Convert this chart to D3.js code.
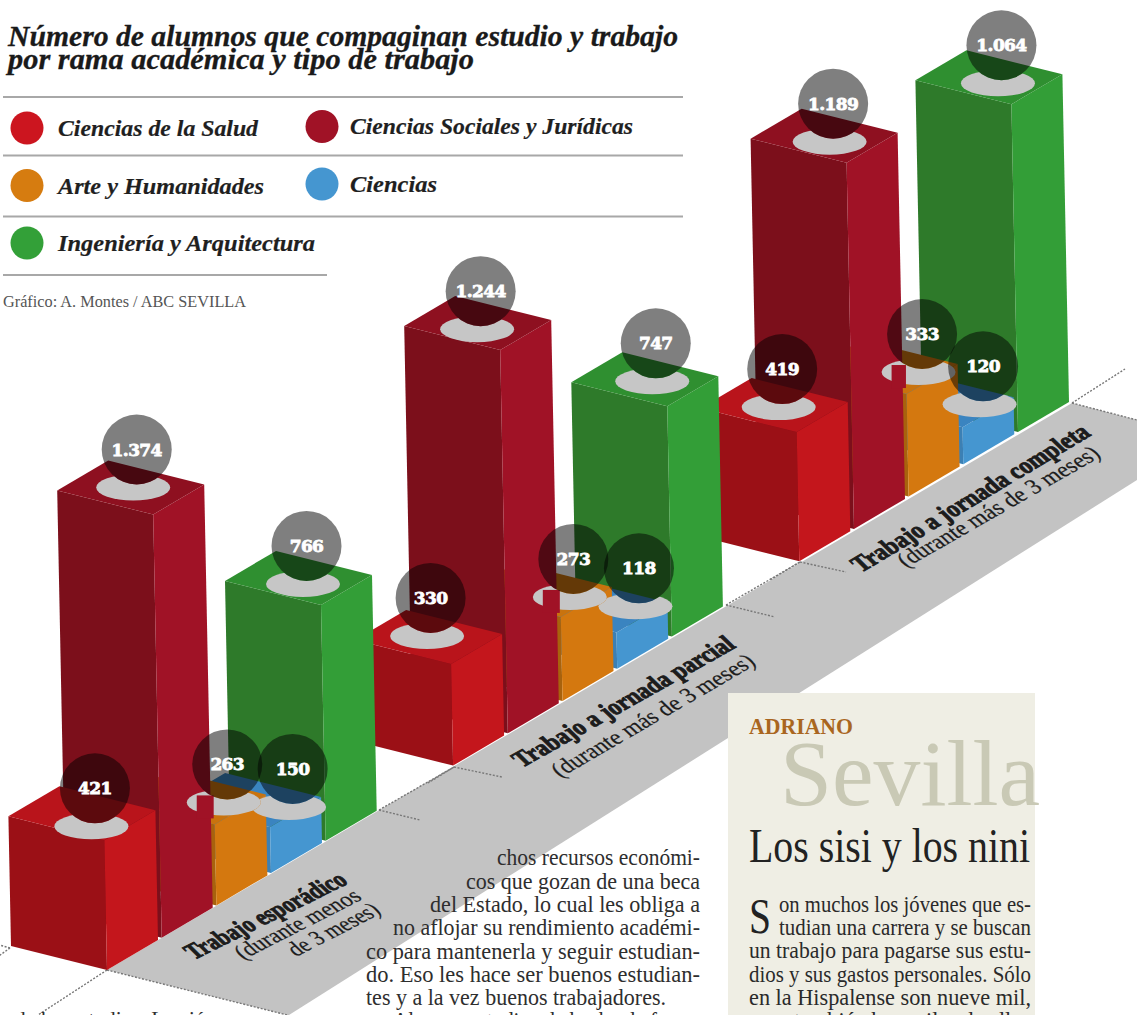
<!DOCTYPE html>
<html><head><meta charset="utf-8">
<script src="https://cdn.jsdelivr.net/npm/d3@7/dist/d3.min.js"></script>
<style>html,body{margin:0;padding:0;background:#fff;overflow:hidden}svg{display:block}</style>
</head><body><div id="c"></div>
<script>
// ---------- data ----------
const groups = ["Trabajo esporádico","Trabajo a jornada parcial","Trabajo a jornada completa"];
const branches = ["Ciencias de la Salud","Ciencias Sociales y Jurídicas","Arte y Humanidades","Ciencias","Ingeniería y Arquitectura"];
const saludValues = [421,330,419];
const socialesValues = [1374,1244,1189];
const arteValues = [263,273,333];
const cienciasValues = [150,118,120];
const ingenieriaValues = [766,747,1064];
const seriesValues = [saludValues,socialesValues,arteValues,cienciasValues,ingenieriaValues];

// ---------- styles / layout ----------
const faces = [
 {left:"#9b1016",right:"#c4161c",top:"#b9141b",key:"#cc151f"},
 {left:"#7c0f1b",right:"#a01226",top:"#8e1020",key:"#a01226"},
 {left:"#a8620d",right:"#d4780f",top:"#c9730e",key:"#d67c10"},
 {left:"#3c80b4",right:"#4596d0",top:"#3a84c0",key:"#4596d0"},
 {left:"#2e7a2a",right:"#339e37",top:"#2f8f30",key:"#33a038"}];
const W=1137,H=1015;
// offset of each disc from the front corner of its bar's top [group][branch]
const discDX=[[-13,-20,9,19,-18],[-24,-23,9,19,-15],[-18,-17,12,17,-13.5]];
const discDY=[[-14,-27,-22,-20,-21],[-28,-21,-20,-26,-25],[-25,-21,-22,-23,-21]];
const L={x:-96,y:-24},R={x:51,y:-30};
const groupGap=6.33;
const slotMax=2*groupGap+4;
const rowX=d3.scaleLinear().domain([0,slotMax]).range([107,1018]);
const rowY=d3.scaleLinear().domain([0,slotMax]).range([970,432]);
const heightScale=d3.scaleLinear().domain([0,1000]).range([0,308]);
const lean=-0.02;
const fmt=d3.formatLocale({decimal:",",thousands:".",grouping:[3],currency:["","€"]}).format(",");

const svg=d3.select("#c").append("svg").attr("width",W).attr("height",H).attr("viewBox",`0 0 ${W} ${H}`);
const defs=svg.append("defs");
const poly=pts=>"M"+pts.map(p=>p.x.toFixed(1)+","+p.y.toFixed(1)).join("L")+"Z";
const add=(a,b)=>({x:a.x+b.x,y:a.y+b.y});
const SERIF='"Liberation Serif","DejaVu Serif",serif';

// ---------- floor ----------
svg.append("path").attr("d",poly([{x:107,y:970},{x:1072,y:403},{x:1137,y:420},{x:1137,y:480},{x:289,y:1015},{x:287,y:1015}])).attr("fill","#c3c3c3");
const dashes=[[107,970,287,1015],[107,970,38,1015],[10,948,-4,944],[10,948,-4,958],[379,810,420,820],[454,767,502,777],[454,767,428,783],[379,810,454,767],[726,605,775,617],[800,562,846,572],[800,562,770,580],[726,605,800,562],[1072,403,1137,420],[1072,403,1125,369]];
svg.append("g").selectAll("line").data(dashes).join("line")
 .attr("x1",d=>d[0]).attr("y1",d=>d[1]).attr("x2",d=>d[2]).attr("y2",d=>d[3])
 .attr("stroke","#777").attr("stroke-width",1.4).attr("stroke-dasharray","2 1.6");

// ---------- bars ----------
const bars=[];
groups.forEach((g,gi)=>branches.forEach((b,bi)=>{
  const value=seriesValues[bi][gi],h=heightScale(value),slot=gi*groupGap+bi;
  const base={x:rowX(slot),y:rowY(slot)};
  const front={x:base.x+lean*h,y:base.y-h};
  const disc={x:front.x+discDX[gi][bi],y:front.y+discDY[gi][bi]};
  bars.push({gi,bi,value,h,base,front,disc,slot});
}));
const order=bars.slice().sort((a,b)=>b.slot-a.slot);
const barG=svg.append("g");
order.forEach(d=>{
  const c=faces[d.bi],g=barG.append("g");
  g.append("path").attr("d",poly([d.base,d.front,add(d.front,L),add(d.base,L)])).attr("fill",c.left);
  g.append("path").attr("d",poly([d.base,d.front,add(d.front,R),add(d.base,R)])).attr("fill",c.right);
  g.append("path").attr("d",poly([d.front,add(d.front,L),add(add(d.front,L),R),add(d.front,R)])).attr("fill",c.top);
});

// ---------- discs and balls ----------
const discRx=37,discRy=13,ballR=35,ballDX=3.5,ballDY=-38;
const discG=svg.append("g");
order.forEach((d,i)=>{
  const id="m"+i;
  const m=defs.append("mask").attr("id",id).attr("maskUnits","userSpaceOnUse").attr("x",0).attr("y",0).attr("width",W).attr("height",H);
  m.append("rect").attr("width",W).attr("height",H).attr("fill","#fff");
  m.append("circle").attr("cx",d.disc.x+ballDX).attr("cy",d.disc.y+ballDY).attr("r",ballR).attr("fill","#000");
  discG.append("ellipse").attr("cx",d.disc.x).attr("cy",d.disc.y).attr("rx",discRx).attr("ry",discRy).attr("fill","#c6c6c6").attr("mask",`url(#${id})`);
  if(d.bi===2){
    // the taller bar in front bites a notch out of the disc
    discG.append("rect").attr("x",d.disc.x-27).attr("y",d.disc.y-7).attr("width",rowX(d.slot-1)+R.x-(d.disc.x-27)+1).attr("height",discRy+10).attr("fill",faces[1].right);
  }
  if(d.bi===3){
    // sliver where this disc overlaps the orange one
    const prev=bars.find(b=>b.gi===d.gi&&b.bi===2);
    const cid="c"+i;
    defs.append("clipPath").attr("id",cid).append("ellipse").attr("cx",prev.disc.x).attr("cy",prev.disc.y).attr("rx",discRx).attr("ry",discRy);
    discG.append("ellipse").attr("cx",d.disc.x).attr("cy",d.disc.y).attr("rx",discRx).attr("ry",discRy).attr("fill",faces[2].right).attr("clip-path",`url(#${cid})`);
  }
});
const ballG=svg.append("g");
order.forEach(d=>{
  const x=d.disc.x+ballDX,y=d.disc.y+ballDY;
  ballG.append("circle").attr("cx",x).attr("cy",y).attr("r",ballR).attr("fill","rgba(0,0,0,.5)");
});
order.forEach(d=>{
  const x=d.disc.x+ballDX,y=d.disc.y+ballDY;
  ballG.append("text").attr("x",x).attr("y",y+6).attr("text-anchor","middle")
   .attr("font-family",'"DejaVu Serif",serif').attr("font-weight",700).attr("font-size",17)
   .attr("fill","#fff").attr("stroke","#fff").attr("stroke-width",.8).attr("letter-spacing",-.6).text(fmt(d.value));
});

// ---------- floor labels ----------
const floorText=[
 {t:groups[0],p:[194,960,349,883],b:1,fs:26},
 {t:"(durante menos",p:[243,960,363,899],b:0,fs:24},
 {t:"de 3 meses)",p:[296,957,382,913],b:0,fs:24},
 {t:groups[1],p:[522,768,737,647],b:1,fs:26},
 {t:"(durante más de 3 meses)",p:[560,778,757,664],b:0,fs:24},
 {t:groups[2],p:[861,573,1092,435],b:1,fs:26},
 {t:"(durante más de 3 meses)",p:[906,568,1102,456],b:0,fs:24}];
const shearX=.72,shearY=.7;
svg.append("g").selectAll("text").data(floorText).join("text")
 .attr("transform",d=>{
   const dx=d.p[2]-d.p[0],dy=d.p[3]-d.p[1],l=Math.hypot(dx,dy);
   return `matrix(${dx/l},${dy/l},${shearX},${shearY},${d.p[0]},${d.p[1]})`;})
 .attr("textLength",d=>Math.hypot(d.p[2]-d.p[0],d.p[3]-d.p[1])).attr("lengthAdjust","spacingAndGlyphs")
 .attr("font-family",SERIF).attr("font-size",d=>d.fs).attr("font-weight",d=>d.b?700:400)
 .attr("fill","#1c1c1c").attr("stroke","#1c1c1c").attr("stroke-width",d=>d.b?1:.25).text(d=>d.t);

// ---------- title and legend ----------
const head=svg.append("g").attr("font-family",SERIF);
const put=(sel,t,x,y,len,fs,o={})=>sel.append("text").attr("x",x).attr("y",y).attr("font-size",fs)
  .attr("textLength",len).attr("lengthAdjust","spacingAndGlyphs")
  .attr("font-weight",o.w||400).attr("font-style",o.i?"italic":"normal").attr("fill",o.c||"#222")
  .attr("stroke",o.s?(o.c||"#222"):null).attr("stroke-width",o.s||null).text(t);
put(head,"Número de alumnos que compaginan estudio y trabajo",8,46,670,30,{w:700,i:1,c:"#1a1a1a",s:.3});
put(head,"por rama académica y tipo de trabajo",8,69,466,30,{w:700,i:1,c:"#1a1a1a",s:.3});
const rules=[[3,683,97],[3,683,155.5],[3,683,216.5],[3,327,275]];
head.selectAll("line").data(rules).join("line").attr("x1",d=>d[0]).attr("x2",d=>d[1]).attr("y1",d=>d[2]).attr("y2",d=>d[2]).attr("stroke","#a8a8a8").attr("stroke-width",2);
const legendSpots=[[27,128,58,136,200],[322,126.5,350,134,283],[27,185.5,58,194,206],[322,184,350,192,87],[27,243,58,251,257]];
branches.forEach((b,i)=>{
  const s=legendSpots[i];
  head.append("circle").attr("cx",s[0]).attr("cy",s[1]).attr("r",16.5).attr("fill",faces[i].key);
  put(head,b,s[2],s[3],s[4],24,{w:700,i:1,c:"#1f1f1f",s:.2});
});
put(head,"Gráfico: A. Montes / ABC SEVILLA",3,307,243,16.5,{c:"#555"});

// ---------- surrounding page text ----------
const page=svg.append("g").attr("font-family",SERIF);
const colLines=[["chos recursos económi-",497,865,203],["cos que gozan de una beca",466,889,234],["del Estado, lo cual les obliga a",430,912,270],["no aflojar su rendimiento académi-",393,935,307],["co para mantenerla y seguir estudian-",366,959,334],["do. Eso les hace ser buenos estudian-",366,982,334],["tes y a la vez buenos trabajadores.",366,1005,300],["Algunos estudian de hecho de forma",393,1028,307]];
colLines.forEach(l=>put(page,l[0],l[1],l[2],l[3],23,{c:"#2e2e2e"}));
put(page,"de los estudios. Los jóvenes que",15,1026,275,21,{c:"#2e2e2e"});
page.append("rect").attr("x",728).attr("y",693).attr("width",307).attr("height",322).attr("fill","#efeee4");
put(page,"ADRIANO",749,734,104,23,{w:700,c:"#a9661f"});
put(page,"Sevilla",780,805,260,94,{c:"#c9c9b5"});
put(page,"Los sisi y los nini",749,862,281,48,{c:"#222"});
put(page,"S",749,933,22,50,{c:"#222"});
const panelLines=[["on muchos los jóvenes que es-",779,912,252],["tudian una carrera y se buscan",779,935,252],["un trabajo para pagarse sus estu-",749,958,282],["dios y sus gastos personales. Sólo",749,982,282],["en la Hispalense son nueve mil,",749,1005,282],["pero también hay miles de ellos",749,1028,282]];
panelLines.forEach(l=>put(page,l[0],l[1],l[2],l[3],23,{c:"#2a2a2a"}));
</script></body></html>
